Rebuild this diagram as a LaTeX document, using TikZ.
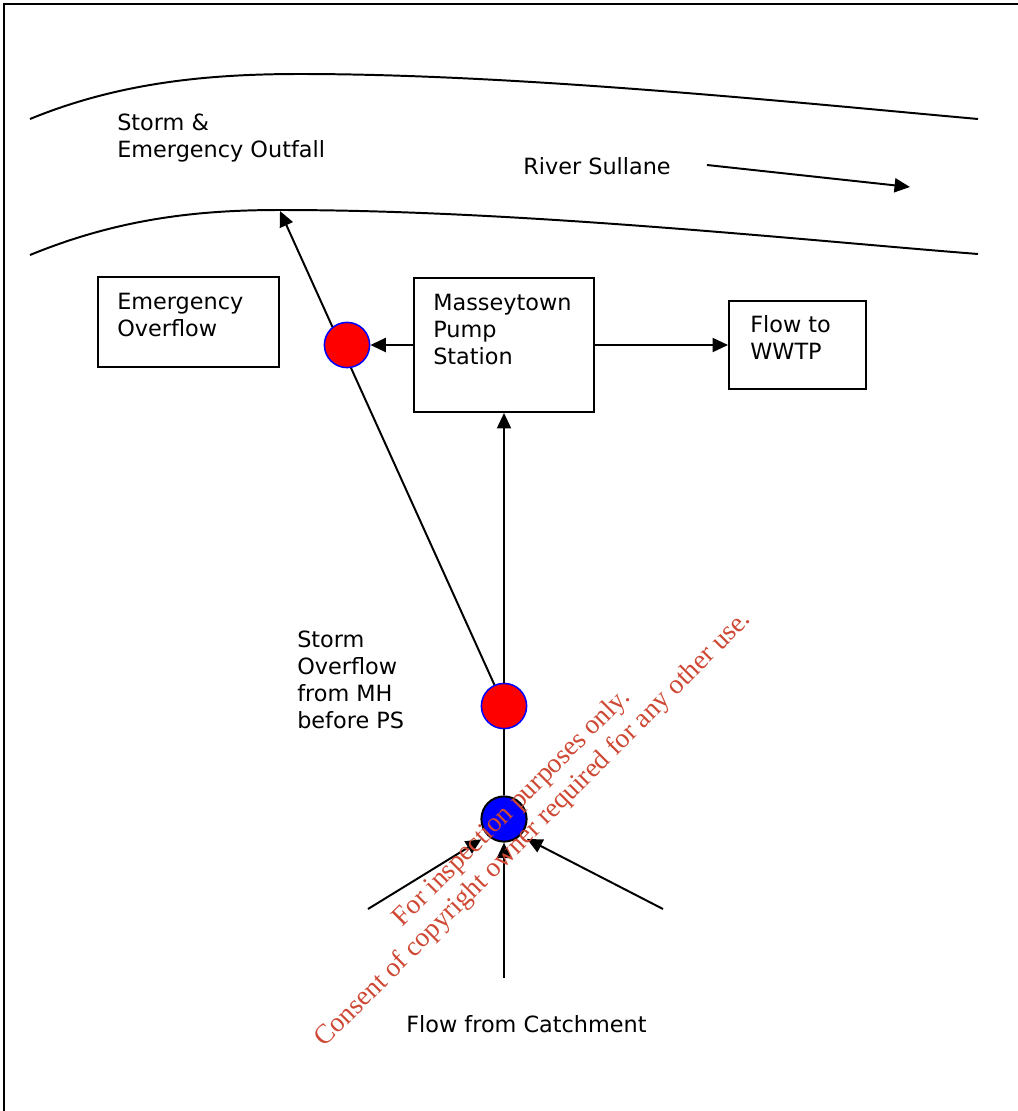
\documentclass[tikz,border=0pt]{standalone}
\usepackage{fontspec}
\setmainfont{DejaVu Sans}
\newfontfamily\stampfont{Liberation Serif}
\usetikzlibrary{arrows.meta, positioning, calc}
\definecolor{stampred}{RGB}{206,72,52}
\tikzset{
    flow/.style={-{Triangle[length=11pt,width=10pt]}, line width=1.4pt},
    bank/.style={line width=1.4pt},
    unit/.style={draw, line width=1.4pt, inner sep=0pt},
    plain/.style={anchor=base west, inner sep=0pt, align=left, font=\fontsize{15.9}{19.2}\selectfont},
    overflow/.style={circle, fill=red, draw=blue, line width=1.1pt, minimum size=1.13cm, inner sep=0pt},
    manhole/.style={circle, fill=blue, draw=black, line width=1.4pt, minimum size=1.13cm, inner sep=0pt},
    stamp/.style={text=stampred, align=center, rotate=45, inner sep=0pt, font=\stampfont\fontsize{19.5}{21.5}\selectfont}
}

\begin{document}
\begin{tikzpicture}[x=0.025cm, y=-0.025cm]
    \useasboundingbox (0,0) rectangle (1018,1111);
    % Frame
    \draw[line width=1.6pt] (1018,4) -- (4,4) -- (4,1111);
    % River banks
    \draw[bank] (30,119) .. controls (120,82) and (210,74) .. (300,74) .. controls (520,74) and (800,103) .. (978,119);
    \draw[bank] (30,255) .. controls (120,218) and (200,210) .. (280,210) .. controls (520,210) and (800,240) .. (978,254);
    \node[plain] (outtxt) at (117,157) {Storm \&\\Emergency Outfall};
    \node[plain] (river) at (523,174) {River Sullane};
    \coordinate (flowa) at (707,165);
    \coordinate (flowb) at (910,187);
    \draw[flow] (flowa) -- (flowb);
    % Boxes
    \node[unit, minimum width=4.525cm, minimum height=2.25cm] (emerg) at (188.5,322) {};
    \node[plain] at ($(emerg.north west)+(20,60)$) {Emergency\\Overflow};
    \node[unit, minimum width=4.5cm, minimum height=3.35cm] (ps) at (504,345) {};
    \node[plain] at ($(ps.north west)+(20,87)$) {Masseytown\\Pump\\Station};
    \node[unit, minimum width=3.425cm, minimum height=2.2cm] (wwtp) at (797.5,345) {};
    \node[plain] at ($(wwtp.north west)+(22,59)$) {Flow to\\WWTP};
    % Overflow and manhole
    \node[overflow] (ovfb) at (504,706) {};
    \node[manhole] (mh) at (504,819) {};
    \coordinate (outfall) at (280,211);
    \draw[flow] (ovfb) -- (outfall);
    \draw[line width=1.4pt] (mh) -- (ovfb);
    \draw[flow] (ovfb) -- (ps);
    \node[overflow] (ovfa) at (347,345) {};
    \draw[flow] (ps) -- (ovfa);
    \draw[flow] (ps) -- (wwtp);
    \node[plain] (sotxt) at (297,728) {Storm\\Overflow\\from MH\\before PS};
    % Catchment inflows
    \coordinate (inl) at (368,909);
    \coordinate (inm) at (504,978);
    \coordinate (inr) at (663,909);
    \draw[flow, shorten >=5pt] (inl) -- (mh.south west);
    \draw[flow] (inm) -- (mh);
    \draw[flow, shorten >=5pt] (inr) -- (mh.south east);
    \node[plain] (catch) at (406,1032) {Flow from Catchment};
    % Stamp
    \node[stamp] (seal) at (523,819) {For inspection purposes only.\\Consent of copyright owner required for any other use.};
\end{tikzpicture}
\end{document}
